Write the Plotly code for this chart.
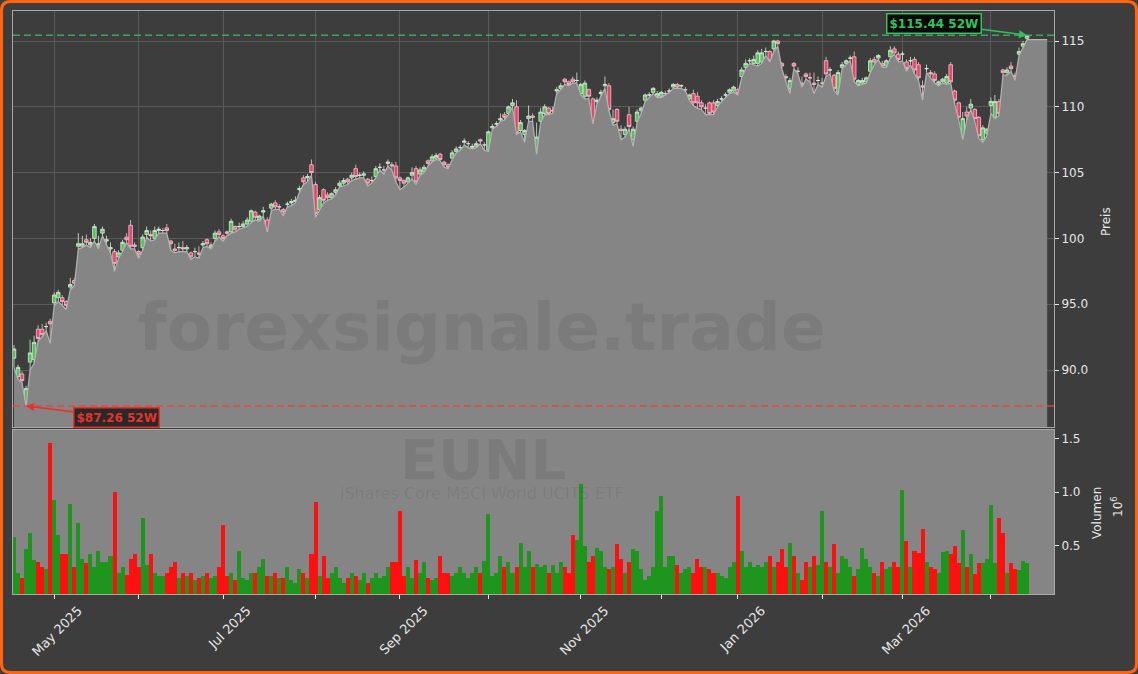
import numpy as np
import pandas as pd
import plotly.graph_objects as go

# ---------------- data ----------------
holidays = ['2025-04-18', '2025-04-21', '2025-05-01', '2025-12-24', '2025-12-25',
            '2025-12-26', '2025-12-31', '2026-01-01', '2026-04-03', '2026-04-06']
all_days = pd.bdate_range('2025-04-15', '2026-04-16')
dates = all_days[~all_days.isin(pd.to_datetime(holidays))]

opens = [90.9, 89.5, 89.7, 87.4, 90.6, 90.8, 93.1, 93.1, 93.3, 93.7,
         95.1, 95.5, 95.5, 95.2, 96.3, 96.8, 99.4, 99.4, 99.9, 99.5,
         100.0, 99.4, 100.4, 99.8, 99.2, 99.0, 98.6, 99.1, 100.1, 101.0,
         99.5, 99.0, 99.3, 100.3, 100.3, 100.0, 100.6, 100.6, 100.8, 99.8,
         99.2, 99.3, 99.3, 99.2, 98.9, 99.0, 98.9, 99.5, 99.9, 99.3,
         100.0, 100.5, 100.2, 100.5, 100.5, 100.9, 100.9, 100.9, 101.1, 101.3,
         102.0, 101.4, 102.0, 101.4, 102.3, 102.7, 102.4, 102.2, 102.6, 102.7,
         102.8, 103.7, 104.6, 104.6, 105.6, 104.1, 102.2, 103.7, 103.3, 103.1,
         103.5, 104.0, 104.2, 104.5, 104.6, 105.3, 104.8, 104.8, 104.5, 104.4,
         104.7, 105.4, 105.2, 105.7, 105.6, 105.5, 104.6, 104.4, 104.3, 104.8,
         105.3, 104.9, 105.1, 105.9, 105.9, 106.1, 106.4, 105.8, 105.6, 106.1,
         106.6, 106.9, 107.3, 107.2, 106.9, 107.0, 107.5, 107.1, 106.7, 108.4,
         108.7, 109.0, 109.4, 109.5, 110.1, 110.0, 108.2, 107.9, 109.1, 109.3,
         106.6, 108.9, 109.5, 109.9, 109.7, 111.2, 111.4, 112.1, 111.9, 112.1,
         112.0, 111.0, 110.8, 111.3, 110.6, 110.4, 111.0, 111.6, 111.6, 108.8,
         109.8, 108.3, 107.9, 109.4, 107.5, 108.9, 109.7, 110.5, 110.9, 111.1,
         110.8, 110.8, 111.0, 111.2, 111.5, 111.7, 111.6, 111.3, 110.6, 111.0,
         110.8, 110.3, 109.9, 110.3, 110.3, 110.1, 110.6, 110.9, 111.1, 111.2,
         111.3, 112.3, 113.0, 113.5, 113.3, 113.3, 113.4, 114.2, 114.2, 114.4,
         115.0, 113.3, 112.3, 111.4, 113.3, 112.7, 111.8, 112.5, 112.2, 111.8,
         112.0, 111.8, 113.5, 112.8, 112.4, 111.1, 113.0, 113.3, 113.7, 113.8,
         111.7, 111.8, 111.9, 112.7, 113.6, 113.7, 113.3, 113.1, 113.8, 114.4,
         114.0, 114.0, 113.4, 113.5, 113.6, 113.2, 111.6, 112.9, 112.6, 112.5,
         111.7, 111.9, 111.8, 113.2, 111.2, 110.3, 107.7, 109.6, 109.9, 109.8,
         109.2, 107.5, 108.0, 110.1, 109.2, 110.4, 112.8, 112.6, 113.1, 112.4,
         114.0, 114.6, 115.2]
highs = [91.9, 90.4, 89.9, 88.8, 92.3, 92.6, 93.4, 93.5, 93.6, 93.9,
         95.9, 96.1, 95.7, 95.3, 97.0, 97.0, 100.4, 100.2, 100.3, 100.0,
         101.1, 100.2, 100.9, 100.2, 99.7, 99.2, 99.1, 99.9, 100.4, 101.4,
         99.7, 99.1, 100.3, 100.9, 100.6, 100.9, 100.9, 100.8, 101.1, 99.9,
         99.6, 99.7, 99.8, 99.5, 99.0, 99.3, 99.4, 99.8, 100.0, 99.7,
         100.6, 100.7, 100.3, 100.6, 101.5, 101.0, 101.2, 101.3, 101.6, 102.2,
         102.1, 101.8, 102.4, 101.6, 102.7, 102.9, 102.6, 102.3, 102.8, 103.0,
         103.2, 104.0, 104.8, 104.9, 106.0, 104.3, 103.3, 103.8, 103.5, 103.5,
         103.9, 104.4, 104.6, 104.6, 105.0, 105.6, 105.0, 105.1, 104.6, 104.7,
         105.5, 105.7, 105.5, 106.0, 105.8, 105.8, 104.7, 104.5, 104.7, 105.4,
         105.5, 105.4, 105.6, 106.0, 106.4, 106.5, 106.5, 105.9, 105.7, 106.7,
         107.0, 107.1, 107.6, 107.4, 107.2, 107.4, 107.6, 107.3, 108.2, 108.7,
         108.9, 109.5, 109.6, 110.1, 110.6, 110.5, 109.0, 108.3, 110.1, 109.5,
         108.8, 109.9, 110.2, 110.0, 110.0, 111.5, 111.8, 112.2, 112.0, 112.3,
         112.6, 111.8, 112.0, 111.4, 110.7, 110.7, 111.3, 112.3, 111.8, 109.8,
         109.9, 108.6, 108.5, 110.0, 108.5, 109.8, 110.0, 111.0, 111.1, 111.5,
         111.2, 111.2, 111.2, 111.4, 111.8, 111.8, 111.7, 111.5, 111.0, 111.3,
         111.1, 110.5, 110.2, 110.4, 110.5, 110.6, 110.8, 111.1, 111.4, 111.6,
         111.4, 113.0, 113.6, 113.7, 113.9, 114.3, 114.4, 114.5, 114.3, 115.1,
         115.1, 113.4, 112.5, 112.2, 113.4, 113.0, 112.3, 112.6, 112.6, 112.6,
         112.3, 112.2, 113.8, 113.0, 112.5, 112.8, 113.4, 113.6, 113.9, 114.2,
         112.1, 112.2, 112.3, 113.7, 113.8, 114.0, 113.5, 113.6, 114.6, 114.6,
         114.2, 114.2, 113.6, 113.8, 113.8, 113.4, 112.0, 113.2, 112.8, 112.7,
         112.0, 112.2, 112.5, 113.4, 111.3, 110.4, 109.6, 110.0, 110.6, 109.9,
         109.3, 108.6, 108.4, 110.7, 110.9, 110.6, 112.9, 113.0, 113.4, 112.6,
         114.5, 115.0, 115.44]
lows = [90.2, 89.3, 89.0, 87.26, 90.0, 90.5, 92.2, 92.5, 93.0, 92.0,
        94.9, 95.2, 94.9, 94.6, 96.1, 96.4, 99.2, 99.3, 99.5, 99.3,
        99.8, 99.2, 100.2, 99.6, 98.9, 97.5, 98.5, 99.0, 99.7, 99.2,
        99.2, 98.5, 99.1, 100.1, 99.8, 99.9, 100.4, 100.4, 100.4, 99.1,
        98.9, 99.0, 99.0, 99.0, 98.4, 98.6, 98.5, 99.3, 99.4, 99.2,
        99.8, 100.1, 99.8, 100.2, 100.4, 100.5, 100.7, 100.8, 100.9, 101.2,
        101.4, 101.3, 101.7, 100.5, 102.1, 102.2, 102.2, 101.7, 102.4, 102.5,
        102.7, 103.5, 104.1, 104.3, 104.8, 101.6, 102.1, 102.7, 102.9, 103.0,
        103.3, 103.9, 104.0, 104.1, 104.4, 104.5, 104.6, 104.6, 104.0, 104.2,
        104.6, 105.2, 104.9, 105.5, 105.2, 104.3, 103.7, 103.9, 104.2, 104.5,
        104.1, 104.8, 105.0, 105.5, 105.8, 106.0, 105.9, 105.4, 105.3, 106.0,
        106.5, 106.7, 107.1, 106.9, 106.8, 106.9, 107.2, 106.7, 106.6, 108.3,
        108.5, 108.9, 109.0, 109.4, 110.0, 107.9, 108.1, 107.3, 108.9, 108.9,
        106.4, 108.8, 109.4, 109.4, 109.5, 111.0, 111.3, 111.7, 111.6, 111.8,
        111.8, 110.9, 110.6, 110.6, 108.7, 110.2, 110.8, 111.4, 109.7, 108.6,
        108.7, 107.5, 107.7, 108.3, 107.0, 108.8, 109.5, 110.4, 110.7, 111.0,
        110.7, 110.7, 110.9, 111.1, 111.4, 111.4, 111.4, 111.2, 110.5, 110.1,
        109.9, 109.8, 109.4, 109.4, 109.4, 110.0, 110.4, 110.7, 111.0, 111.1,
        110.9, 112.2, 112.9, 113.3, 113.2, 113.1, 113.3, 113.9, 113.4, 114.2,
        114.6, 112.9, 111.9, 111.0, 112.9, 112.5, 111.5, 112.1, 111.9, 111.0,
        111.7, 111.5, 112.3, 112.5, 111.2, 110.9, 112.9, 113.2, 113.5, 111.9,
        111.6, 111.7, 111.8, 112.6, 113.2, 113.6, 113.0, 113.0, 113.7, 114.0,
        113.4, 113.5, 112.7, 113.2, 112.5, 112.0, 110.5, 112.6, 112.2, 111.8,
        111.6, 111.8, 111.7, 111.8, 110.2, 109.0, 107.5, 109.0, 109.8, 108.9,
        107.6, 107.3, 107.8, 109.5, 109.1, 109.3, 112.4, 112.4, 112.7, 112.0,
        113.9, 114.5, 115.1]
closes = [91.6, 90.2, 89.2, 88.6, 91.3, 92.1, 92.4, 92.7, 93.3, 93.5,
          95.7, 95.9, 95.2, 94.9, 96.5, 96.6, 99.6, 99.6, 99.7, 99.7,
          100.9, 99.6, 100.7, 99.9, 99.3, 98.1, 98.9, 99.7, 99.9, 99.4,
          99.4, 98.8, 100.1, 100.6, 100.2, 100.6, 100.7, 100.6, 100.6, 99.6,
          99.1, 99.3, 99.2, 99.3, 98.6, 99.0, 98.8, 99.6, 99.6, 99.5,
          100.4, 100.3, 100.0, 100.4, 101.3, 100.7, 100.9, 101.1, 101.4, 102.1,
          101.6, 101.7, 102.1, 100.6, 102.6, 102.4, 102.4, 102.0, 102.6, 102.8,
          102.9, 103.8, 104.3, 104.7, 105.0, 101.9, 103.1, 102.9, 103.1, 103.4,
          103.7, 104.2, 104.4, 104.3, 104.8, 104.7, 104.8, 104.9, 104.2, 104.4,
          105.3, 105.4, 105.2, 105.8, 105.5, 104.6, 104.4, 104.2, 104.6, 105.0,
          104.3, 105.2, 105.4, 105.7, 106.2, 106.3, 106.0, 105.6, 105.4, 106.5,
          106.8, 106.9, 107.4, 107.2, 107.0, 107.2, 107.4, 107.1, 108.1, 108.5,
          108.7, 109.1, 109.2, 110.0, 110.3, 108.0, 108.8, 108.2, 109.3, 109.2,
          107.7, 109.6, 110.0, 109.5, 109.7, 111.3, 111.6, 111.9, 111.7, 111.9,
          112.0, 111.7, 111.8, 110.8, 108.8, 110.5, 111.1, 111.7, 109.8, 109.1,
          108.9, 108.2, 108.3, 108.5, 108.3, 109.6, 109.9, 110.9, 110.9, 111.4,
          111.0, 111.1, 111.0, 111.2, 111.7, 111.5, 111.6, 111.3, 110.9, 110.3,
          110.3, 110.0, 109.9, 109.5, 109.6, 110.4, 110.6, 110.9, 111.3, 111.5,
          111.0, 112.8, 113.3, 113.5, 113.6, 114.1, 114.1, 114.2, 113.5, 115.0,
          114.8, 113.1, 112.2, 112.0, 113.1, 112.7, 111.7, 112.3, 112.2, 111.7,
          112.0, 111.8, 112.5, 112.8, 111.4, 112.6, 113.2, 113.5, 113.7, 112.1,
          112.0, 112.0, 112.2, 113.5, 113.4, 113.9, 113.1, 113.5, 114.3, 114.1,
          113.6, 114.0, 112.9, 113.5, 112.8, 112.2, 111.5, 112.9, 112.5, 112.0,
          111.9, 112.1, 112.3, 111.9, 110.5, 109.2, 109.1, 109.3, 110.2, 109.1,
          107.8, 108.4, 108.3, 110.4, 110.4, 109.5, 112.6, 112.8, 112.9, 112.3,
          114.2, 114.8, 115.4]
# volume in millions of shares
volumes = [0.58, 0.25, 0.20, 0.47, 0.62, 0.37, 0.35, 0.30, 0.28, 1.46,
           0.93, 0.60, 0.42, 0.42, 0.89, 0.30, 0.71, 0.38, 0.34, 0.42,
           0.30, 0.45, 0.35, 0.35, 0.40, 1.00, 0.25, 0.30, 0.23, 0.38,
           0.42, 0.30, 0.76, 0.32, 0.42, 0.25, 0.22, 0.22, 0.25, 0.30,
           0.35, 0.20, 0.25, 0.22, 0.25, 0.18, 0.20, 0.22, 0.25, 0.20,
           0.22, 0.30, 0.69, 0.22, 0.25, 0.18, 0.45, 0.20, 0.18, 0.25,
           0.25, 0.30, 0.38, 0.22, 0.22, 0.25, 0.20, 0.20, 0.30, 0.18,
           0.15, 0.28, 0.25, 0.20, 0.42, 0.91, 0.22, 0.40, 0.20, 0.25,
           0.30, 0.20, 0.15, 0.20, 0.25, 0.22, 0.18, 0.25, 0.15, 0.20,
           0.25, 0.20, 0.22, 0.30, 0.35, 0.35, 0.82, 0.22, 0.30, 0.20,
           0.37, 0.25, 0.35, 0.20, 0.18, 0.20, 0.40, 0.25, 0.25, 0.22,
           0.25, 0.30, 0.25, 0.20, 0.25, 0.30, 0.25, 0.36, 0.80, 0.22,
           0.25, 0.40, 0.30, 0.35, 0.25, 0.30, 0.53, 0.30, 0.45, 0.30,
           0.33, 0.30, 0.32, 0.25, 0.32, 0.25, 0.35, 0.30, 0.25, 0.60,
           0.55, 1.08, 0.50, 0.35, 0.40, 0.48, 0.45, 0.30, 0.28, 0.30,
           0.52, 0.38, 0.25, 0.35, 0.47, 0.45, 0.28, 0.18, 0.22, 0.30,
           0.82, 0.96, 0.30, 0.40, 0.40, 0.32, 0.25, 0.28, 0.30, 0.25,
           0.38, 0.30, 0.30, 0.28, 0.25, 0.25, 0.22, 0.20, 0.30, 0.35,
           0.96, 0.45, 0.30, 0.35, 0.30, 0.32, 0.30, 0.35, 0.40, 0.30,
           0.35, 0.47, 0.30, 0.53, 0.40, 0.25, 0.18, 0.35, 0.30, 0.40,
           0.32, 0.82, 0.35, 0.30, 0.52, 0.25, 0.40, 0.38, 0.30, 0.22,
           0.28, 0.48, 0.38, 0.30, 0.25, 0.22, 0.35, 0.28, 0.30, 0.35,
           0.30, 1.02, 0.54, 0.30, 0.45, 0.43, 0.66, 0.35, 0.30, 0.28,
           0.25, 0.44, 0.45, 0.42, 0.50, 0.34, 0.65, 0.30, 0.42, 0.24,
           0.34, 0.34, 0.38, 0.88, 0.34, 0.76, 0.62, 0.25, 0.34, 0.28,
           0.27, 0.36, 0.34]

ticker = "EUNL"
fund_name = "iShares Core MSCI World UCITS ETF"
watermark = "forexsignale.trade"
price_ticks = [90, 95, 100, 105, 110, 115]
price_tick_text = ["90.0", "95.0", "100", "105", "110", "115"]
vol_ticks = [0.5, 1.0, 1.5]
vol_tick_text = ["0.5", "1.0", "1.5"]

# ---------------- layout constants ----------------
W, H = 1138, 674
ML, MR, MT, MB = 13, 84, 11, 80
PW, PH = W - ML - MR, H - MT - MB
BG = "#3d3d3d"
FILLG = "#858585"
GRID = "#5a5a5a"
FRAME = "#a8a8a8"
TXT = "#e6e6e6"
FONT = "DejaVu Sans"
GREEN_T = "#34c15c"
RED_T = "#e8312c"


def pxx(px):
    return (px - ML) / PW


def pyy(py):
    return (H - MB - py) / PH


n = len(closes)
x = np.arange(n)

month_idx = [i for i in range(1, n) if dates[i].month != dates[i - 1].month]
major_idx = [i for i in month_idx if dates[i].month % 2 == 1]
major_txt = [dates[i].strftime('%b %Y') for i in major_idx]
minor_idx = [i for i in month_idx if dates[i].month % 2 == 0]

vol_colors = ['#1e961e' if c >= o else '#ff1010' for o, c in zip(opens, closes)]

i_hi = int(np.argmax(highs))
i_lo = int(np.argmin(lows))
hi_val = highs[i_hi]
lo_val = lows[i_lo]

xr = [-0.25, n - 1 + 6.7]

fig = go.Figure()
fig.add_trace(go.Scatter(
    x=list(x) + [n - 1 + 5], y=list(lows) + [lows[-1]],
    mode='lines', line=dict(color='#b4b4b4', width=1.2),
    fill='tozeroy', fillcolor=FILLG, xaxis='x', yaxis='y', hoverinfo='skip'))
fig.add_trace(go.Candlestick(
    x=x, open=opens, high=highs, low=lows, close=closes,
    increasing=dict(fillcolor='#5cbf62', line=dict(color='#d4efd4', width=0.8)),
    decreasing=dict(fillcolor='#e4476a', line=dict(color='#f4c6d0', width=0.8)),
    whiskerwidth=0, xaxis='x', yaxis='y'))
fig.add_trace(go.Bar(
    x=x, y=volumes, marker=dict(color=vol_colors, line=dict(width=0)),
    width=1.0, xaxis='x2', yaxis='y2'))

axis_common = dict(showline=True, mirror=True, linecolor=FRAME, linewidth=1,
                   zeroline=False, tickfont=dict(family=FONT, size=12, color=TXT),
                   tickcolor=TXT, ticklen=4)

fig.update_layout(
    width=W, height=H,
    margin=dict(l=ML, r=MR, t=MT, b=MB),
    paper_bgcolor=BG, plot_bgcolor=BG,
    showlegend=False, bargap=0, boxgap=0.12, boxgroupgap=0,
    font=dict(family=FONT, color=TXT),
    xaxis=dict(domain=[0, 1], anchor='y', range=xr, tickvals=month_idx,
               showticklabels=False, ticks='', showgrid=True, gridcolor=GRID,
               gridwidth=1, rangeslider=dict(visible=False), **axis_common),
    yaxis=dict(domain=[pyy(427), 1], anchor='x', side='right', range=[85.67, 117.28],
               tickvals=price_ticks, ticktext=price_tick_text, ticks='outside',
               showgrid=True, gridcolor=GRID, gridwidth=1, **axis_common),
    xaxis2=dict(domain=[0, 1], anchor='y2', range=xr, tickvals=major_idx,
                ticktext=major_txt, tickangle=-45, ticks='outside', showgrid=False,
                ticklabelshift=24, ticklabelstandoff=-1,
                minor=dict(tickvals=minor_idx, ticks='outside', ticklen=4,
                           tickcolor=TXT, showgrid=False),
                **axis_common),
    yaxis2=dict(domain=[0, pyy(430)], anchor='x2', side='right', range=[0.05, 1.58],
                tickvals=vol_ticks, ticktext=vol_tick_text, ticks='outside',
                showgrid=False, **axis_common),
)
fig.update_xaxes(tickfont=dict(family=FONT, size=13, color=TXT), selector=dict(anchor='y2'))

shapes = [
    dict(type='rect', xref='x2 domain', yref='y2 domain', x0=0, x1=1, y0=0, y1=1,
         fillcolor=FILLG, line=dict(width=0), layer='below'),
    dict(type='line', xref='x domain', yref='y', x0=0, x1=1, y0=hi_val, y1=hi_val,
         line=dict(color='rgba(60,185,100,0.85)', width=1.5, dash='7px,4px')),
    dict(type='line', xref='x domain', yref='y', x0=0, x1=1, y0=lo_val, y1=lo_val,
         line=dict(color='rgba(235,65,60,0.85)', width=1.5, dash='7px,4px')),
]
# rounded orange frame around the whole figure
r, e = 9, 1.5
x0, x1, y0, y1 = e, W - e, e, H - e
pts = (f"M {pxx(x0 + r)},{pyy(y0)} L {pxx(x1 - r)},{pyy(y0)} Q {pxx(x1)},{pyy(y0)} {pxx(x1)},{pyy(y0 + r)} "
       f"L {pxx(x1)},{pyy(y1 - r)} Q {pxx(x1)},{pyy(y1)} {pxx(x1 - r)},{pyy(y1)} "
       f"L {pxx(x0 + r)},{pyy(y1)} Q {pxx(x0)},{pyy(y1)} {pxx(x0)},{pyy(y1 - r)} "
       f"L {pxx(x0)},{pyy(y0 + r)} Q {pxx(x0)},{pyy(y0)} {pxx(x0 + r)},{pyy(y0)} Z")
shapes.append(dict(type='path', xref='paper', yref='paper', path=pts,
                   line=dict(color='#ff6410', width=3), fillcolor='rgba(0,0,0,0)'))
fig.update_layout(shapes=shapes)

WM = 'rgba(0,0,0,0.075)'
C = dict(xref='paper', yref='paper', xanchor='center', yanchor='middle', showarrow=False)
annotations = [
    dict(text=f"<b>{watermark}</b>", x=pxx(482), y=pyy(327),
         font=dict(family=FONT, size=66, color=WM), **C),
    dict(text=f"<b>{ticker}</b>", x=pxx(483), y=pyy(459),
         font=dict(family=FONT, size=56, color=WM), **C),
    dict(text=fund_name, x=pxx(482), y=pyy(493),
         font=dict(family=FONT, size=16, color=WM), **C),
    dict(text="Preis", x=pxx(1106), y=pyy(222), textangle=-90,
         font=dict(family=FONT, size=12, color=TXT), **C),
    dict(text="Volumen", x=pxx(1097), y=pyy(513), textangle=-90,
         font=dict(family=FONT, size=12, color=TXT), **C),
    dict(text="10<sup>6</sup>", x=pxx(1117), y=pyy(507), textangle=-90,
         font=dict(family=FONT, size=12, color=TXT), **C),
    dict(text=f"<b>${hi_val:.2f} 52W</b>", x=i_hi, y=hi_val, xref='x', yref='y',
         ax=-93, ay=-12, showarrow=True, arrowhead=2, arrowsize=1, arrowwidth=1.6,
         arrowcolor=GREEN_T, bgcolor='rgba(0,0,0,0.85)', bordercolor=GREEN_T,
         borderwidth=1.5, borderpad=2, font=dict(family=FONT, size=12, color=GREEN_T)),
    dict(text=f"<b>${lo_val:.2f} 52W</b>", x=i_lo, y=lo_val, xref='x', yref='y',
         ax=90, ay=11, showarrow=True, arrowhead=2, arrowsize=1, arrowwidth=1.6,
         arrowcolor=RED_T, bgcolor='rgba(25,25,25,0.85)', bordercolor=RED_T,
         borderwidth=1.5, borderpad=2, font=dict(family=FONT, size=12, color=RED_T)),
]
fig.update_layout(annotations=annotations)

fig.write_html("out.html", config={'displayModeBar': False},
               post_script="document.body.style.margin='0px';")
